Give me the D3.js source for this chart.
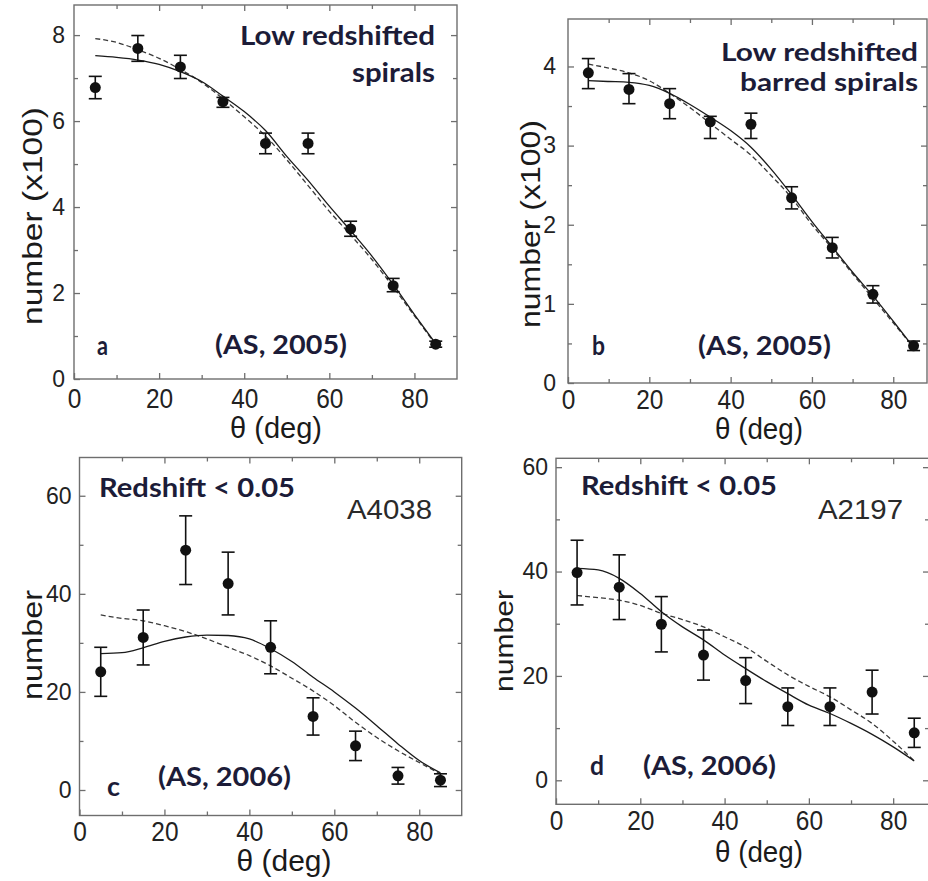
<!DOCTYPE html>
<html>
<head>
<meta charset="utf-8">
<script src="https://cdn.jsdelivr.net/npm/d3@7"></script>
<style>
  html, body { margin: 0; padding: 0; background: #fff; }
  svg { display: block; }
</style>
</head>
<body>
<svg id="chart" width="928" height="881"></svg>
<script>
// ---------------- DATA ----------------
const theta = [5, 15, 25, 35, 45, 55, 65, 75, 85];
const fitTheta = [5, 10, 15, 20, 25, 30, 35, 40, 45, 50, 55, 60, 65, 70, 75, 80, 85];
const xMajorTicks = [0, 20, 40, 60, 80];
const xMinorTicks = [10, 30, 50, 70];

// (a) Low redshifted spirals, number (x100)
const aCounts  = [6.78, 7.69, 7.26, 6.45, 5.48, 5.48, 3.49, 2.17, 0.81];
const aErrLo   = [0.26, 0.30, 0.27, 0.13, 0.24, 0.24, 0.17, 0.14, 0.07];
const aErrHi   = [0.26, 0.30, 0.27, 0.10, 0.24, 0.24, 0.18, 0.17, 0.07];
const aSolid   = [7.52, 7.48, 7.42, 7.32, 7.15, 6.92, 6.58, 6.22, 5.78, 5.18, 4.62, 4.02, 3.45, 2.86, 2.20, 1.50, 0.82];
const aDashed  = [7.92, 7.83, 7.66, 7.46, 7.20, 6.90, 6.52, 6.10, 5.65, 5.10, 4.50, 3.90, 3.35, 2.78, 2.14, 1.47, 0.80];
const aYMajor  = [0, 2, 4, 6, 8];
const aYMinor  = [1, 3, 5, 7];

// (b) Low redshifted barred spirals, number (x100)
const bCounts  = [3.92, 3.71, 3.53, 3.30, 3.27, 2.34, 1.71, 1.12, 0.47];
const bErrLo   = [0.20, 0.18, 0.19, 0.21, 0.18, 0.14, 0.13, 0.11, 0.06];
const bErrHi   = [0.18, 0.20, 0.19, 0.07, 0.14, 0.14, 0.13, 0.11, 0.06];
const bSolid   = [3.82, 3.81, 3.80, 3.76, 3.66, 3.52, 3.36, 3.19, 2.98, 2.70, 2.38, 2.04, 1.72, 1.40, 1.10, 0.78, 0.45];
const bDashed  = [4.03, 3.98, 3.92, 3.82, 3.66, 3.48, 3.28, 3.08, 2.88, 2.62, 2.34, 2.00, 1.70, 1.38, 1.07, 0.76, 0.45];
const bYMajor  = [0, 1, 2, 3, 4];
const bYMinor  = [0.5, 1.5, 2.5, 3.5];

// (c) Redshift < 0.05, A4038
const cCounts  = [24.1, 31.1, 48.9, 42.1, 29.1, 15.0, 9.0, 2.9, 2.0];
const cErrLo   = [5.0, 5.6, 7.0, 6.4, 5.4, 3.8, 3.0, 1.7, 1.3];
const cErrHi   = [5.0, 5.6, 7.0, 6.4, 5.4, 3.8, 3.0, 1.7, 1.3];
const cSolid   = [27.8, 28.0, 29.0, 30.3, 31.2, 31.6, 31.5, 30.8, 28.8, 26.2, 23.0, 20.0, 16.7, 13.1, 9.4, 6.0, 3.5];
const cDashed  = [35.7, 35.0, 34.5, 33.5, 32.3, 30.8, 29.1, 27.4, 25.3, 22.8, 20.2, 17.2, 13.8, 10.7, 8.0, 5.6, 3.3];
const cYMajor  = [0, 20, 40, 60];
const cYMinor  = [10, 30, 50];

// (d) Redshift < 0.05, A2197
const dCounts  = [39.8, 37.0, 29.9, 24.0, 19.1, 14.1, 14.1, 16.9, 9.1];
const dErrLo   = [6.2, 6.2, 5.3, 4.8, 4.4, 3.6, 3.6, 4.2, 2.8];
const dErrHi   = [6.2, 6.2, 5.3, 4.8, 4.4, 3.6, 3.6, 4.2, 2.8];
const dSolid   = [40.6, 40.3, 38.7, 35.8, 32.3, 29.4, 26.9, 24.0, 21.4, 18.9, 16.6, 14.4, 12.8, 10.9, 8.8, 6.4, 3.7];
const dDashed  = [35.4, 35.0, 34.5, 33.5, 32.0, 30.8, 29.4, 27.5, 25.5, 22.8, 20.2, 18.0, 16.0, 13.5, 10.9, 7.5, 3.7];
const dYMajor  = [0, 20, 40, 60];
const dYMinor  = [10, 30, 50];

// ---------------- LAYOUT ----------------
const panels = [
  { frame: {l: 74, r: 457, t: 5, b: 379}, xDom: [0, 90], yDom: [0, 8.7],
    counts: aCounts, lo: aErrLo, hi: aErrHi, solid: aSolid, dashed: aDashed,
    yMajor: aYMajor, yMinor: aYMinor, xLabBase: 29, yLabGap: 9,
    yTitle: {text: "number (x100)", x: 42, y: 216, len: 218, size: 28},
    xTitle: {x: 276, y: 438, len: 92},
    notes: [
      {t: "Low redshifted", x: 435, y: 45, anchor: "end", len: 195, size: 27},
      {t: "spirals", x: 435, y: 82, anchor: "end", len: 83, size: 27},
      {t: "a", x: 97, y: 355, anchor: "start", len: 11, size: 27},
      {t: "(AS, 2005)", x: 215, y: 354, anchor: "start", len: 132, size: 27}
    ]},
  { frame: {l: 568, r: 927, t: 19, b: 383}, xDom: [0, 88.3], yDom: [0, 4.6],
    counts: bCounts, lo: bErrLo, hi: bErrHi, solid: bSolid, dashed: bDashed,
    yMajor: bYMajor, yMinor: bYMinor, xLabBase: 26, yLabGap: 12,
    yTitle: {text: "number (x100)", x: 540, y: 224, len: 208, size: 28},
    xTitle: {x: 759, y: 439, len: 88},
    notes: [
      {t: "Low redshifted", x: 918, y: 61, anchor: "end", len: 197, size: 24},
      {t: "barred spirals", x: 918, y: 91, anchor: "end", len: 178, size: 24},
      {t: "b", x: 592, y: 355, anchor: "start", len: 13, size: 27},
      {t: "(AS, 2005)", x: 698, y: 355, anchor: "start", len: 133, size: 27}
    ]},
  { frame: {l: 79.5, r: 461.7, t: 457.5, b: 815.5}, xDom: [0, 90], yDom: [-5.2, 67.8],
    counts: cCounts, lo: cErrLo, hi: cErrHi, solid: cSolid, dashed: cDashed,
    yMajor: cYMajor, yMinor: cYMinor, xLabBase: 25, yLabGap: 8,
    yTitle: {text: "number", x: 42, y: 645, len: 110, size: 28},
    xTitle: {x: 284, y: 871, len: 95},
    notes: [
      {t: "Redshift < 0.05", x: 99, y: 497, anchor: "start", len: 196, size: 27},
      {t: "c", x: 107, y: 796, anchor: "start", len: 13, size: 27},
      {t: "(AS, 2006)", x: 158, y: 786, anchor: "start", len: 133, size: 27}
    ],
    plain: {t: "A4038", x: 347, y: 519, len: 85}},
  { frame: {l: 556, r: 929, t: 458.3, b: 804.3}, xDom: [0, 88.5], yDom: [-4.6, 61.7],
    counts: dCounts, lo: dErrLo, hi: dErrHi, solid: dSolid, dashed: dDashed,
    yMajor: dYMajor, yMinor: dYMinor, xLabBase: 26, yLabGap: 8,
    yTitle: {text: "number", x: 513, y: 641, len: 102, size: 26},
    xTitle: {x: 759, y: 862, len: 88},
    notes: [
      {t: "Redshift < 0.05", x: 581, y: 495, anchor: "start", len: 196, size: 27},
      {t: "d", x: 590, y: 775, anchor: "start", len: 14, size: 27},
      {t: "(AS, 2006)", x: 643, y: 775, anchor: "start", len: 133, size: 27}
    ],
    plain: {t: "A2197", x: 818, y: 519, len: 85}}
];

const svg = d3.select("#chart");
svg.append("rect").attr("width", 928).attr("height", 881).attr("fill", "#fff");

const frameColor = "#6e6e6e";
const tickFont = "'Liberation Sans', Arial, sans-serif";
const noteFont = "Lato, 'Open Sans', sans-serif";
const noteColor = "#1c1c38";

panels.forEach(p => {
  const f = p.frame;
  const x = d3.scaleLinear().domain(p.xDom).range([f.l, f.r]);
  const y = d3.scaleLinear().domain(p.yDom).range([f.b, f.t]);
  const g = svg.append("g");

  // frame
  g.append("rect").attr("x", f.l).attr("y", f.t)
    .attr("width", f.r - f.l).attr("height", f.b - f.t)
    .attr("fill", "none").attr("stroke", frameColor).attr("stroke-width", 1.4);

  const styleAxis = sel => {
    sel.select(".domain").remove();
    sel.selectAll(".tick line").attr("stroke", frameColor).attr("stroke-width", 1.3);
  };

  // bottom major (with labels)
  const bottom = g.append("g").attr("transform", `translate(0,${f.b})`)
    .call(d3.axisBottom(x).tickValues(xMajorTicks).tickSizeInner(-6).tickSizeOuter(0).tickFormat(d3.format("d")))
    .call(styleAxis);
  bottom.selectAll(".tick text")
    .attr("y", p.xLabBase).attr("dy", null)
    .attr("font-family", tickFont).attr("font-size", 28).attr("fill", "#222")
    .attr("text-anchor", "middle")
    .each(function() {
      const s = d3.select(this);
      s.attr("textLength", s.text().length * 13.6).attr("lengthAdjust", "spacingAndGlyphs");
    });
  g.append("g").attr("transform", `translate(0,${f.b})`)
    .call(d3.axisBottom(x).tickValues(xMinorTicks).tickSizeInner(-4).tickSizeOuter(0).tickFormat(""))
    .call(styleAxis);
  // top mirror
  g.append("g").attr("transform", `translate(0,${f.t})`)
    .call(d3.axisTop(x).tickValues(xMajorTicks.filter(v => v > 0)).tickSizeInner(-6).tickSizeOuter(0).tickFormat(""))
    .call(styleAxis);
  g.append("g").attr("transform", `translate(0,${f.t})`)
    .call(d3.axisTop(x).tickValues(xMinorTicks).tickSizeInner(-4).tickSizeOuter(0).tickFormat(""))
    .call(styleAxis);

  // left major (with labels)
  const left = g.append("g").attr("transform", `translate(${f.l},0)`)
    .call(d3.axisLeft(y).tickValues(p.yMajor).tickSizeInner(-6).tickSizeOuter(0).tickPadding(p.yLabGap).tickFormat(d3.format("d")))
    .call(styleAxis);
  left.selectAll(".tick text")
    .attr("font-family", tickFont).attr("font-size", 23).attr("fill", "#222");
  g.append("g").attr("transform", `translate(${f.l},0)`)
    .call(d3.axisLeft(y).tickValues(p.yMinor).tickSizeInner(-4).tickSizeOuter(0).tickFormat(""))
    .call(styleAxis);
  // right mirror
  g.append("g").attr("transform", `translate(${f.r},0)`)
    .call(d3.axisRight(y).tickValues(p.yMajor.filter(v => y(v) > f.t + 2 && y(v) < f.b - 2)).tickSizeInner(-6).tickSizeOuter(0).tickFormat(""))
    .call(styleAxis);
  g.append("g").attr("transform", `translate(${f.r},0)`)
    .call(d3.axisRight(y).tickValues(p.yMinor).tickSizeInner(-4).tickSizeOuter(0).tickFormat(""))
    .call(styleAxis);

  // axis titles
  g.append("text")
    .attr("transform", `translate(${p.yTitle.x},${p.yTitle.y}) rotate(-90)`)
    .attr("text-anchor", "middle")
    .attr("font-family", tickFont).attr("font-size", p.yTitle.size).attr("fill", "#1a1a1a")
    .attr("textLength", p.yTitle.len).attr("lengthAdjust", "spacingAndGlyphs")
    .text(p.yTitle.text);
  g.append("text")
    .attr("x", p.xTitle.x).attr("y", p.xTitle.y)
    .attr("text-anchor", "middle")
    .attr("font-family", tickFont).attr("font-size", 30).attr("fill", "#1a1a1a")
    .attr("textLength", p.xTitle.len).attr("lengthAdjust", "spacingAndGlyphs")
    .text("\u03B8 (deg)");

  // fitted curves
  const line = d3.line().x((d, i) => x(fitTheta[i])).y(d => y(d)).curve(d3.curveMonotoneX);
  g.append("path").datum(p.dashed).attr("d", line)
    .attr("fill", "none").attr("stroke", "#3a3a3a").attr("stroke-width", 1.3)
    .attr("stroke-dasharray", "5,3");
  g.append("path").datum(p.solid).attr("d", line)
    .attr("fill", "none").attr("stroke", "#1a1a1a").attr("stroke-width", 1.3);

  // error bars & points
  const pts = theta.map((t, i) => ({t, v: p.counts[i], lo: p.counts[i] - p.lo[i], hi: p.counts[i] + p.hi[i]}));
  const eb = g.append("g").attr("stroke", "#111").attr("stroke-width", 1.6);
  pts.forEach(d => {
    eb.append("line").attr("x1", x(d.t)).attr("x2", x(d.t)).attr("y1", y(d.lo)).attr("y2", y(d.hi));
    eb.append("line").attr("x1", x(d.t) - 6.5).attr("x2", x(d.t) + 6.5).attr("y1", y(d.lo)).attr("y2", y(d.lo));
    eb.append("line").attr("x1", x(d.t) - 6.5).attr("x2", x(d.t) + 6.5).attr("y1", y(d.hi)).attr("y2", y(d.hi));
  });
  g.selectAll("circle.pt").data(pts).join("circle").attr("class", "pt")
    .attr("cx", d => x(d.t)).attr("cy", d => y(d.v)).attr("r", 5.5).attr("fill", "#111");

  // annotations
  p.notes.forEach(n => {
    g.append("text").attr("x", n.x).attr("y", n.y)
      .attr("text-anchor", n.anchor)
      .attr("font-family", noteFont).attr("font-weight", "bold").attr("font-size", n.size)
      .attr("fill", noteColor)
      .attr("textLength", n.len).attr("lengthAdjust", "spacingAndGlyphs")
      .text(n.t);
  });
  if (p.plain) {
    g.append("text").attr("x", p.plain.x).attr("y", p.plain.y)
      .attr("font-family", tickFont).attr("font-size", 28).attr("fill", "#2a2a2a")
      .attr("textLength", p.plain.len).attr("lengthAdjust", "spacingAndGlyphs")
      .text(p.plain.t);
  }
});
</script>
</body>
</html>
